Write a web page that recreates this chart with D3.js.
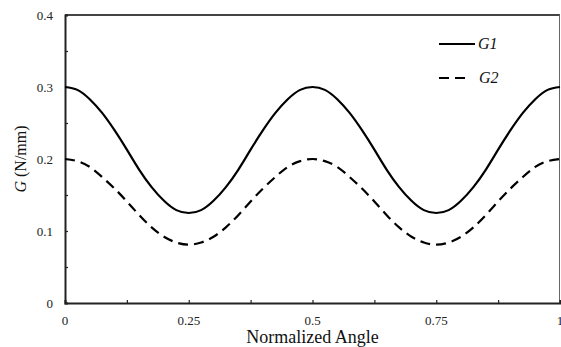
<!DOCTYPE html>
<html>
<head>
<meta charset="utf-8">
<script src="https://cdn.jsdelivr.net/npm/d3@7"></script>
<style>
  body { margin: 0; background: #fff; }
  svg text { font-family: "Liberation Serif", "Times New Roman", serif; }
</style>
</head>
<body>
<div id="container"></div>
<script>
/* CONSTANTS AND GLOBALS */
const width = 561,
  height = 347,
  margin = { top: 15, bottom: 44, left: 65, right: 1 },
  serif = "'Liberation Serif', 'Times New Roman', serif";

// normalized angle samples
const angle = [0, 0.025, 0.05, 0.075, 0.1, 0.125, 0.15, 0.175, 0.2, 0.225, 0.25,
  0.275, 0.3, 0.325, 0.35, 0.375, 0.4, 0.425, 0.45, 0.475, 0.5,
  0.525, 0.55, 0.575, 0.6, 0.625, 0.65, 0.675, 0.7, 0.725, 0.75,
  0.775, 0.8, 0.825, 0.85, 0.875, 0.9, 0.925, 0.95, 0.975, 1];

// G1, solid
const g1 = [0.300, 0.296, 0.283, 0.264, 0.240, 0.213, 0.185, 0.161, 0.142, 0.129, 0.125,
  0.129, 0.142, 0.161, 0.185, 0.213, 0.240, 0.264, 0.283, 0.296, 0.300,
  0.296, 0.283, 0.264, 0.240, 0.213, 0.185, 0.161, 0.142, 0.129, 0.125,
  0.129, 0.142, 0.161, 0.185, 0.213, 0.240, 0.264, 0.283, 0.296, 0.300];

// G2, dashed
const g2 = [0.200, 0.197, 0.189, 0.175, 0.159, 0.141, 0.122, 0.105, 0.092, 0.084, 0.081,
  0.084, 0.092, 0.105, 0.122, 0.141, 0.159, 0.175, 0.189, 0.197, 0.200,
  0.197, 0.189, 0.175, 0.159, 0.141, 0.122, 0.105, 0.092, 0.084, 0.081,
  0.084, 0.092, 0.105, 0.122, 0.141, 0.159, 0.175, 0.189, 0.197, 0.200];

const xTickLabels = ["0", "0.25", "0.5", "0.75", "1"];
const yTickLabels = ["0", "0.1", "0.2", "0.3", "0.4"];

/* SCALES */
const xScale = d3.scaleLinear()
  .domain([0, 1])
  .range([margin.left, width - margin.right]);

const yScale = d3.scaleLinear()
  .domain([0, 0.4])
  .range([height - margin.bottom, margin.top]);

/* SVG */
const svg = d3.select("#container")
  .append("svg")
  .attr("width", width)
  .attr("height", height)
  .attr("font-family", serif);

// frame: top and right
svg.append("line")
  .attr("x1", xScale(0)).attr("x2", xScale(1))
  .attr("y1", yScale(0.4)).attr("y2", yScale(0.4))
  .attr("stroke", "#444").attr("stroke-width", 2);
svg.append("line")
  .attr("x1", xScale(1) - 0.5).attr("x2", xScale(1) - 0.5)
  .attr("y1", yScale(0.4)).attr("y2", yScale(0))
  .attr("stroke", "#666").attr("stroke-width", 1);

// + AXES (ticks inside)
const xAxis = d3.axisTop(xScale)
  .tickValues(d3.range(0, 1.0001, 0.125))
  .tickSize(3)
  .tickFormat("");

const yAxis = d3.axisRight(yScale)
  .tickValues(d3.range(0, 0.4001, 0.05))
  .tickSize(3)
  .tickFormat("");

svg.append("g")
  .attr("transform", `translate(0,${yScale(0)})`)
  .call(xAxis)
  .call(g => g.select(".domain").attr("stroke", "#222").attr("stroke-width", 2))
  .call(g => g.selectAll(".tick line").attr("stroke", "#222").attr("stroke-width", 1.2));

svg.append("g")
  .attr("transform", `translate(${xScale(0)},0)`)
  .call(yAxis)
  .call(g => g.select(".domain").attr("stroke", "#222").attr("stroke-width", 2))
  .call(g => g.selectAll(".tick line").attr("stroke", "#222").attr("stroke-width", 1.2));

// tick labels
svg.append("g")
  .selectAll("text")
  .data(xTickLabels)
  .join("text")
  .attr("x", d => xScale(+d))
  .attr("y", yScale(0) + 22)
  .attr("text-anchor", "middle")
  .attr("font-family", serif)
  .attr("font-size", 13)
  .attr("fill", "#222")
  .text(d => d);

svg.append("g")
  .selectAll("text")
  .data(yTickLabels)
  .join("text")
  .attr("x", xScale(0) - 12)
  .attr("y", d => yScale(+d) + 4.5)
  .attr("text-anchor", "end")
  .attr("font-family", serif)
  .attr("font-size", 13)
  .attr("fill", "#222")
  .text(d => d);

// axis titles
svg.append("text")
  .attr("x", (xScale(0) + xScale(1)) / 2)
  .attr("y", height - 4)
  .attr("text-anchor", "middle")
  .attr("font-family", serif)
  .attr("font-size", 18)
  .attr("fill", "#111")
  .text("Normalized Angle");

const yTitle = svg.append("text")
  .attr("transform", `translate(26,${(yScale(0) + yScale(0.4)) / 2}) rotate(-90)`)
  .attr("text-anchor", "middle")
  .attr("font-family", serif)
  .attr("font-size", 16)
  .attr("fill", "#111");
yTitle.append("tspan").attr("font-style", "italic").text("G");
yTitle.append("tspan").text(" (N/mm)");

/* LINES */
const series = [
  { name: "1", values: g1, dash: null },
  { name: "2", values: g2, dash: "10,6" }
];

const line = d3.line()
  .x((d, i) => xScale(angle[i]))
  .y(d => yScale(d))
  .curve(d3.curveNatural);

svg.selectAll("path.series")
  .data(series)
  .join("path")
  .attr("class", "series")
  .attr("d", d => line(d.values))
  .attr("fill", "none")
  .attr("stroke", "#000")
  .attr("stroke-width", 2.2)
  .attr("stroke-dasharray", d => d.dash);

/* LEGEND */
const legend = svg.append("g")
  .selectAll("g")
  .data(series)
  .join("g")
  .attr("transform", (d, i) => `translate(439,${44 + i * 34})`);

legend.append("line")
  .attr("x1", 0)
  .attr("x2", (d, i) => i === 0 ? 36 : 28)
  .attr("stroke", "#000")
  .attr("stroke-width", 2.2)
  .attr("stroke-dasharray", d => d.dash);

legend.append("text")
  .attr("x", (d, i) => i === 0 ? 39 : 40)
  .attr("y", 5)
  .attr("font-family", serif)
  .attr("font-size", 16)
  .attr("font-style", "italic")
  .attr("fill", "#111")
  .text(d => "G" + d.name);
</script>
</body>
</html>
